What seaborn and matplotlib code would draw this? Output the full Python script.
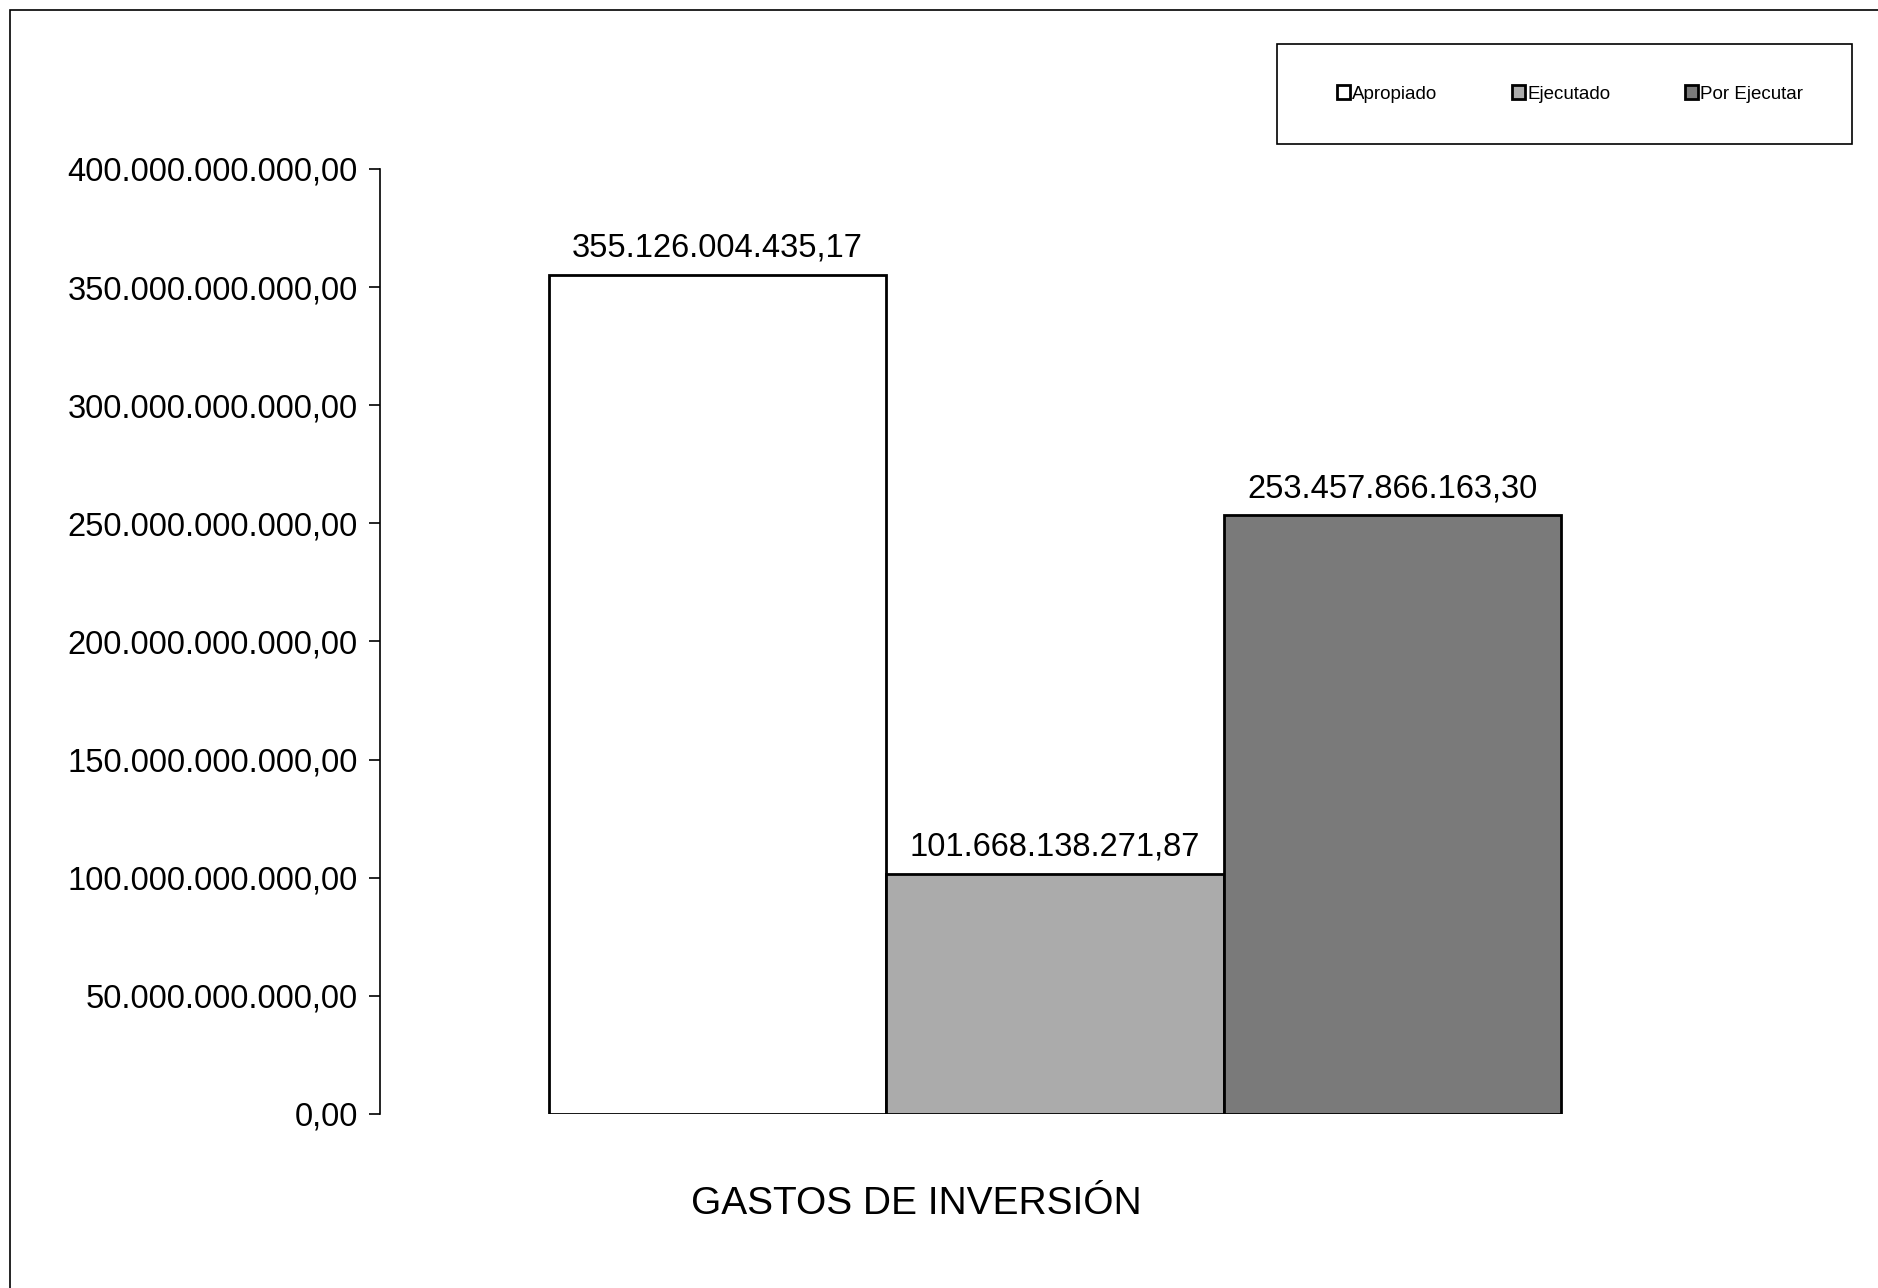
import pandas as pd
import numpy as np
import seaborn as sns
import matplotlib.pyplot as plt
from matplotlib.patches import Rectangle
from matplotlib.ticker import FuncFormatter

# datos
categoria = ['GASTOS DE INVERSIÓN']
series = ['Apropiado', 'Ejecutado', 'Por Ejecutar']
valores = [355126004435.17, 101668138271.87, 253457866163.30]
colores = ['#ffffff', '#ababab', '#7a7a7a']

df = pd.DataFrame({'cat': categoria * 3, 'serie': series, 'valor': valores})


def fmt_es(v, pos=None):
    s = f"{v:,.2f}"
    return s.replace(',', 'X').replace('.', ',').replace('X', '.')


sns.set_style('white')
plt.rcParams['font.family'] = ['Liberation Sans', 'DejaVu Sans']
plt.rcParams['text.color'] = 'black'
plt.rcParams['ytick.color'] = 'black'
plt.rcParams['ytick.labelcolor'] = 'black'

fig = plt.figure(figsize=(18.78, 12.88), dpi=100)
ax = fig.add_axes([0.2023, 0.1351, 0.7188, 0.7337])

sns.barplot(data=df, x='cat', y='valor', hue='serie', palette=colores,
            width=0.75, edgecolor='black', linewidth=2, saturation=1,
            legend=False, ax=ax)

for cont in ax.containers:
    ax.bar_label(cont, labels=[fmt_es(v) for v in cont.datavalues],
                 padding=8, fontsize=23.5, color='black')

ax.set_ylim(0, 400e9)
ax.set_xlim(-0.5, 0.5)
ax.set_yticks(np.arange(0, 400e9 + 1, 50e9))
ax.yaxis.set_major_formatter(FuncFormatter(fmt_es))
ax.tick_params(axis='y', labelsize=23.5, length=8, width=1.2, direction='out',
               left=True, pad=8)
ax.set_xticks([])
ax.set_xlabel('')
ax.set_ylabel('')
for s in ['top', 'right', 'bottom']:
    ax.spines[s].set_visible(False)
ax.spines['left'].set_linewidth(1.2)
ax.spines['left'].set_color('black')

fig.text(0.488, 0.065, 'GASTOS DE INVERSIÓN', fontsize=28, ha='center', va='center')

# leyenda
fig.patches.append(Rectangle((0.680, 0.888), 0.306, 0.078, transform=fig.transFigure,
                             fill=False, edgecolor='black', linewidth=1.2))
handles = [Rectangle((0, 0), 1, 1, facecolor=c, edgecolor='black', linewidth=2) for c in colores]
fig.legend(handles, series, loc='center', bbox_to_anchor=(0.836, 0.927), ncol=3,
           frameon=False, fontsize=13.5, handlelength=0.7, handleheight=0.7,
           handletextpad=0.1, columnspacing=4.0)

# marco
fig.patches.append(Rectangle((0.0053, -0.05), 1.2, 0.0422 + 1.0, transform=fig.transFigure,
                             fill=False, edgecolor='black', linewidth=1.2))

fig.savefig('out.png', dpi=100)
